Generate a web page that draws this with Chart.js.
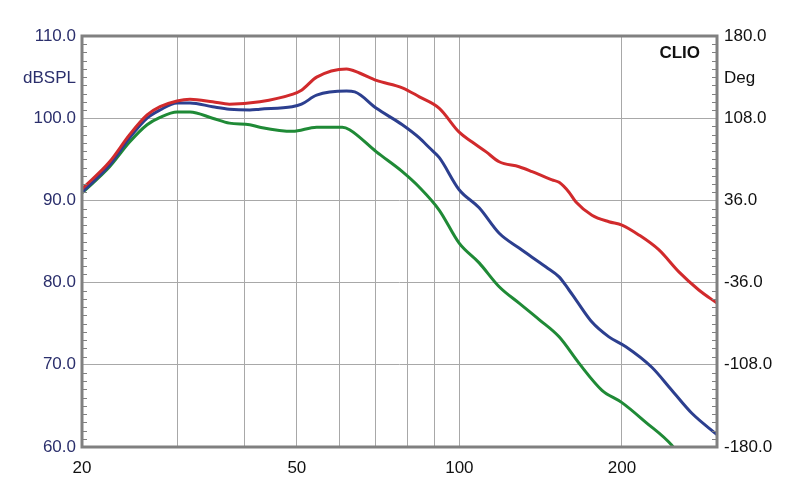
<!DOCTYPE html>
<html>
<head>
<meta charset="utf-8">
<script src="https://cdn.jsdelivr.net/npm/chart.js@4.4.1/dist/chart.umd.min.js"></script>
<style>
  html, body { margin: 0; padding: 0; background: #fff; }
  #wrap { width: 800px; height: 504px; }
</style>
</head>
<body>
<div id="wrap"><canvas id="clio" width="800" height="504"></canvas></div>
<script>
// frequency response, three curves (Hz -> dBSPL)
const freqRed = [20, 22.5, 24.5, 26.4, 27.9, 30, 31.7, 34.9, 37.5, 42.7, 49, 51, 54.4, 61.8, 65.3, 70.2, 78.4, 84.3, 91.8, 99.9, 105.6, 112.1, 118.5, 129, 136.4, 148.5, 153, 159.6, 164.4, 176, 189.2, 200, 215, 234, 255, 277.6, 300];
const splRed  = [91.4, 94.7, 98.0, 100.4, 101.4, 102.1, 102.3, 102.0, 101.7, 102.0, 102.9, 103.4, 105.0, 106.0, 105.5, 104.6, 103.7, 102.6, 101.2, 98.3, 97.1, 95.9, 94.7, 94.1, 93.5, 92.5, 92.2, 91.0, 89.8, 88.2, 87.4, 87.0, 85.8, 84.0, 81.3, 79.1, 77.5];

const freqBlue = [20, 22.5, 24.5, 26.4, 27.9, 30, 31.7, 34.9, 37.5, 40.9, 42.7, 49, 51, 54.4, 61.8, 64, 70.2, 78.4, 84.3, 88, 91.8, 99.9, 108.8, 118.5, 129, 144.7, 153, 159.6, 164.4, 176, 189.2, 203.4, 227.2, 247.4, 269.5, 300];
const splBlue  = [91.0, 94.3, 97.6, 100.0, 101.0, 101.85, 101.85, 101.4, 101.1, 101.0, 101.1, 101.4, 101.7, 102.8, 103.3, 103.2, 101.2, 99.2, 97.6, 96.4, 95.2, 91.3, 89.1, 86.0, 84.2, 81.9, 80.7, 79.1, 77.9, 75.2, 73.4, 72.2, 69.7, 66.9, 64.1, 61.5];

const freqGreen = [20, 22.5, 24.5, 26.4, 27.9, 30, 31.7, 34.9, 37.5, 40.9, 42.7, 49.1, 54.4, 60.7, 62.6, 70.2, 78.4, 84.3, 91.8, 99.9, 108.8, 118.5, 129, 140.5, 153, 166.5, 183.7, 200, 221.5, 247.4, 258];
const splGreen  = [90.9, 94.1, 97.1, 99.2, 100.1, 100.75, 100.75, 100.0, 99.4, 99.2, 98.9, 98.4, 98.9, 98.9, 98.6, 95.9, 93.5, 91.6, 88.8, 84.8, 82.4, 79.5, 77.5, 75.5, 73.4, 70.2, 66.9, 65.4, 63.0, 60.2, 58.5];

// axes
const freqTicks = [20, 30, 40, 50, 60, 70, 80, 90, 100, 200, 300];
const freqLabels = [20, 50, 100, 200];
const splTicks = [60, 70, 80, 90, 100, 110];
const degTicks = [-180, -108, -36, 36, 108, 180];

const FONT = 'Arial, "Liberation Sans", sans-serif';
const NAVY = '#2b2f6c';
const GRID = '#a8a8a8';
const FRAME = '#808080';

function pts(fs, vs) { return fs.map((f, i) => ({ x: f, y: vs[i] })); }

// frame, inner minor ticks, axis titles and CLIO mark
const decor = {
  id: 'decor',
  afterDatasetsDraw(chart) {
    const { ctx, chartArea: a, scales } = chart;
    ctx.save();
    ctx.strokeStyle = FRAME;
    ctx.lineWidth = 1;
    ctx.beginPath();
    for (let v = 61; v < 110; v++) {
      if (v % 10 === 0) continue;
      const y = Math.round(scales.y.getPixelForValue(v)) + 0.5;
      ctx.moveTo(a.left, y); ctx.lineTo(a.left + 5, y);
    }
    for (let k = 1; k < 50; k++) {
      if (k % 10 === 0) continue;
      const y = Math.round(scales.y2.getPixelForValue(-180 + k * 7.2)) + 0.5;
      ctx.moveTo(a.right - 5, y); ctx.lineTo(a.right, y);
    }
    ctx.stroke();

    ctx.lineWidth = 3;
    ctx.strokeRect(a.left, a.top, a.right - a.left, a.bottom - a.top);

    ctx.font = '17px ' + FONT;
    ctx.textBaseline = 'middle';
    ctx.fillStyle = NAVY;
    ctx.textAlign = 'right';
    ctx.fillText('dBSPL', a.left - 6, 78);
    ctx.fillStyle = '#111';
    ctx.textAlign = 'left';
    ctx.fillText('Deg', a.right + 7, 78);
    ctx.font = 'bold 17px ' + FONT;
    ctx.textAlign = 'right';
    ctx.fillText('CLIO', a.right - 17, 53);
    ctx.restore();
  }
};

new Chart(document.getElementById('clio'), {
  type: 'line',
  data: {
    datasets: [
      { data: pts(freqRed, splRed), borderColor: '#d12a2c' },
      { data: pts(freqBlue, splBlue), borderColor: '#2c3f8f' },
      { data: pts(freqGreen, splGreen), borderColor: '#1f8a36' }
    ].map(d => Object.assign(d, { borderWidth: 3, pointRadius: 0, cubicInterpolationMode: 'monotone', yAxisID: 'y' }))
  },
  options: {
    responsive: false,
    animation: false,
    layout: { padding: { top: 36, left: 0, right: 0, bottom: 0 } },
    plugins: { legend: { display: false }, tooltip: { enabled: false } },
    scales: {
      x: {
        type: 'logarithmic', min: 20, max: 300,
        afterBuildTicks: s => { s.ticks = freqTicks.map(v => ({ value: v })); },
        afterFit: s => { s.height = 57; },
        grid: { color: GRID, lineWidth: 1, drawTicks: false },
        border: { display: false },
        ticks: {
          autoSkip: false, maxRotation: 0, padding: 11, color: '#111', font: { family: FONT, size: 17 },
          callback: v => freqLabels.includes(v) ? String(v) : ''
        }
      },
      y: {
        position: 'left', min: 60, max: 110,
        afterBuildTicks: s => { s.ticks = splTicks.map(v => ({ value: v })); },
        afterFit: s => { s.width = 82; },
        grid: { color: GRID, lineWidth: 1, drawTicks: false },
        border: { display: false },
        ticks: { padding: 6, color: NAVY, font: { family: FONT, size: 17 }, callback: v => v.toFixed(1) }
      },
      y2: {
        position: 'right', min: -180, max: 180,
        afterBuildTicks: s => { s.ticks = degTicks.map(v => ({ value: v })); },
        afterFit: s => { s.width = 83; },
        grid: { drawOnChartArea: false, drawTicks: false },
        border: { display: false },
        ticks: { padding: 7, color: '#111', font: { family: FONT, size: 17 }, callback: v => v.toFixed(1) }
      }
    }
  },
  plugins: [decor]
});
</script>
</body>
</html>
